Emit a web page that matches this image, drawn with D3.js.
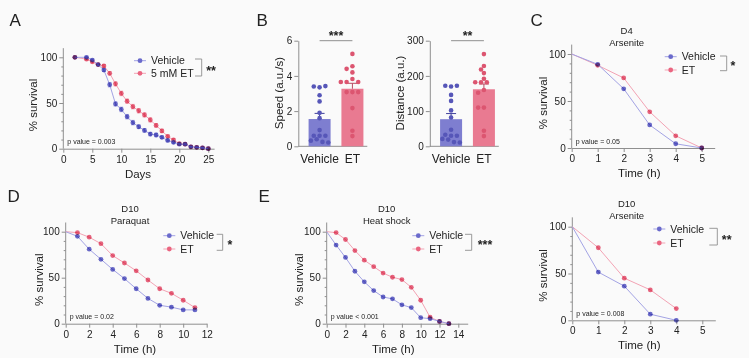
<!DOCTYPE html>
<html><head><meta charset="utf-8">
<script src="https://cdn.jsdelivr.net/npm/d3@7"></script>
<style>
body{margin:0;background:#fafafa;}
svg{display:block;font-family:"Liberation Sans",Arial,Helvetica,sans-serif;}
</style></head><body>
<svg id="chart" width="749" height="358"></svg>
<script>
// ---------------- DATA ----------------
// Panel A: lifespan
const aDays = [2,4,5,6,7,8,9,10,11,12,13,14,15,16,17,18,19,20,21,22,23,24,25];
const aVehicle = [100,100,97,92,86,70,49,43,35,28.5,24,20,16,15,12.5,9,7,5,5,2,1.5,1,0];
const aVehicleSem = [0,1,1,1,1.5,2.5,2.5,2.5,2.5,2.5,2,2,2,2,1.5,1.5,1.5,1,1,0.5,0.5,0.5,0];
const aET = [100,98,95,92,90.5,82.5,71,60.5,52,46,41.5,37,31.5,25.5,19.5,13.5,9.5,5.5,5,2,1.5,1,0];
const aETSem = [0,1,1,1,1.5,2,2.5,2.5,2.5,2.5,2.5,2.5,2.5,2,2,1.5,1.5,1,1,0.5,0.5,0.5,0];
const aTicks = [0,5,10,15,20,25];
const legendNamesA = ["Vehicle","5 mM ET"];

// Panel B: locomotion
const groups = ["Vehicle","ET"];
const speedMean = [1.55,3.27];
const speedSem = [0.32,0.31];
const speedVehicle = [3.35,3.4,3.42,2.9,2.55,1.9,1.6,0.92,0.6,0.6,0.6,0.4,0.25,0.32,0.22];
const speedET = [5.25,4.55,4.4,4.2,3.82,3.65,3.65,3.65,3.08,3.08,3.08,2.17,0.88,0.58];
const speedTicks = [0,2,4,6];
const distMean = [77,162];
const distSem = [16,15];
const distVehicle = [170,172,172,146,129,102,82,47,30,33,30,19,12,21,11];
const distET = [262,228,218,208,192,182,182,182,160,152,110,110,44,29];
const distTicks = [0,100,200,300];

// Panel C: D4 Arsenite
const cTime = [0,1,2,3,4,5];
const cVehicle = [100,89,63,24.5,4.5,0];
const cET = [100,88,74.5,38.5,13,0];
const cTicks = [0,1,2,3,4,5];

// Panel D: D10 Paraquat
const dTime = [0,1,2,3,4,5,6,7,8,9,10,11];
const dVehicle = [100,95,81,70,59,49,38,27.5,20,18,15,15];
const dET = [100,99,94,87,74,66,57.5,47.5,38,33,25.5,17.5];
const dTicks = [0,2,4,6,8,10,12];

// Panel E: D10 Heat shock
const eTime = [0,1,2,3,4,5,6,7,8,9,10,11,12,13];
const eVehicle = [100,85.5,72,57,45.5,36,29,27,20.5,17.5,6.5,5.5,2.5,0];
const eET = [100,99,91.5,79.5,69,62,55,50.5,48,39.5,25.5,7,2.5,0];
const eTicks = [0,2,4,6,8,10,12,14];

// Panel F: D10 Arsenite
const fTime = [0,1,2,3,4];
const fVehicle = [100,51.5,36.5,6.5,0];
const fET = [100,77.5,45,32.5,12.5];
const fTicks = [0,1,2,3,4,5];
const legendNames = ["Vehicle","ET"];

// ---------------- STYLE ----------------
const C = {
  blueDot:"#6a6acb", redDot:"#ea6580", blueLine:"#a3a3e4", redLine:"#f3a3b4",
  axis:"#8f8f8f", text:"#222",
  blueBar:"#7e7ed0", redBar:"#e97a91", blueBarDot:"#5656b8", redBarDot:"#dc5570",
  blueErr:"#3f3f9a", redErr:"#b84a62"
};
const fmt = d3.format("d");
const svg = d3.select("#chart");

function styleAxis(sel, fs){
  sel.select(".domain").attr("stroke",C.axis).attr("stroke-width",1);
  sel.selectAll(".tick line").attr("stroke",C.axis);
  sel.selectAll(".tick text").attr("fill",C.text).attr("font-size",fs||10);
}
function txt(x,y,s,opt){
  opt=opt||{};
  const t = svg.append("text").attr("x",x).attr("y",y).text(s)
    .attr("font-size",opt.fs||11).attr("fill",opt.fill||C.text)
    .attr("text-anchor",opt.anchor||"start");
  if(opt.weight) t.attr("font-weight",opt.weight);
  if(opt.rotate){ t.attr("transform",`rotate(-90,${x},${y})`).attr("dy","0.35em"); }
  return t;
}

function survival(cfg){
  const g = svg.append("g");
  const x = d3.scaleLinear().domain(cfg.xDomain).range(cfg.xRange);
  const y = d3.scaleLinear().domain([0,100]).range([cfg.y0,cfg.y100]);
  const yTop = y(110);
  const ya = g.append("g").attr("transform",`translate(${cfg.xRange[0]},0)`)
    .call(d3.axisLeft(y).tickValues([0,50,100]).tickFormat(fmt).tickSize(4).tickSizeOuter(0).tickPadding(2));
  ya.select(".domain").attr("d",`M0,${cfg.y0}V${yTop}`);
  styleAxis(ya);
  const ym = g.append("g").attr("transform",`translate(${cfg.xRange[0]},0)`)
    .call(d3.axisLeft(y).tickValues([10,20,30,40,60,70,80,90]).tickSize(2).tickFormat(""));
  ym.select(".domain").remove();
  ym.selectAll(".tick line").attr("stroke",C.axis);
  const xa = g.append("g").attr("transform",`translate(0,${cfg.y0})`)
    .call(d3.axisBottom(x).tickValues(cfg.xTicks).tickFormat(fmt).tickSize(4).tickSizeOuter(0).tickPadding(3));
  styleAxis(xa);
  txt(cfg.xRange[0]-cfg.yLabOff,(cfg.y0+cfg.y100)/2+2,"% survival",{fs:11.5,anchor:"middle",rotate:true});
  txt((cfg.xLabX),cfg.y0+29,cfg.xLabel,{fs:11.5,anchor:"middle"});
  if(cfg.title){
    txt(cfg.titleX,cfg.y100-20,cfg.title[0],{fs:9.5,anchor:"middle"});
    txt(cfg.titleX,cfg.y100-8,cfg.title[1],{fs:9.5,anchor:"middle"});
  }
  txt(cfg.xRange[0]+4,cfg.y0-4.5,cfg.pText,{fs:7});
  const series = [
    {t:cfg.t, v:cfg.et, sem:cfg.etSem, dot:C.redDot, line:C.redLine},
    {t:cfg.t, v:cfg.veh, sem:cfg.vehSem, dot:C.blueDot, line:C.blueLine}
  ];
  series.forEach(s=>{
    const pts = s.v.map((v,i)=>({t:s.t[i],v,sem:s.sem?s.sem[i]:0}));
    g.append("path").datum(pts)
      .attr("d",d3.line().x(d=>x(d.t)).y(d=>y(d.v)))
      .attr("fill","none").attr("stroke",s.line).attr("stroke-width",1);
    if(s.sem){
      g.selectAll(null).data(pts.filter(d=>d.sem>0)).enter().append("path")
        .attr("d",d=>`M${x(d.t)},${y(d.v-d.sem)}V${y(d.v+d.sem)}M${x(d.t)-1.8},${y(d.v-d.sem)}H${x(d.t)+1.8}M${x(d.t)-1.8},${y(d.v+d.sem)}H${x(d.t)+1.8}`)
        .attr("stroke",s.line).attr("stroke-width",0.8).attr("fill","none");
    }
    g.selectAll(null).data(pts.filter(d=>d.t>0)).enter().append("circle")
      .attr("cx",d=>x(d.t)).attr("cy",d=>y(d.v)).attr("r",2.4)
      .attr("fill",s.dot).style("mix-blend-mode","multiply");
  });
  const L = cfg.legend;
  [[C.blueDot,C.blueLine,cfg.names[0],L.y1],[C.redDot,C.redLine,cfg.names[1],L.y2]].forEach(([dc,lc,name,yy])=>{
    g.append("line").attr("x1",L.x-6).attr("x2",L.x+6).attr("y1",yy).attr("y2",yy).attr("stroke",lc);
    g.append("circle").attr("cx",L.x).attr("cy",yy).attr("r",2.4).attr("fill",dc);
    txt(L.x+11,yy+3.6,name,{fs:10.5});
  });
  g.append("path").attr("d",`M${L.bx1},${L.by1}H${L.bx2}V${L.by2}H${L.bx1}`)
    .attr("fill","none").attr("stroke",C.axis).attr("stroke-width",0.9);
  txt(L.sx,(L.by1+L.by2)/2+7,L.stars,{fs:12.5,anchor:"middle",weight:"bold"});
}

txt(9.5,25.5,"A",{fs:17});
txt(256.5,25.5,"B",{fs:17});
txt(530.5,25.5,"C",{fs:17});
txt(7.5,201.5,"D",{fs:17});
txt(258.5,201.5,"E",{fs:17});

survival({xDomain:[0,26],xRange:[63.3,214.1],y0:148.7,y100:57.3,xTicks:aTicks,
  t:aDays,veh:aVehicle,vehSem:aVehicleSem,et:aET,etSem:aETSem,
  xLabel:"Days",xLabX:138,yLabOff:30,pText:"p value = 0.003",names:legendNamesA,
  legend:{x:140,y1:60.7,y2:73.3,bx1:195,bx2:201.7,by1:59,by2:76,sx:211,stars:"**"}});

survival({xDomain:[0,5.5],xRange:[571.7,714.7],y0:148,y100:54,xTicks:cTicks,
  t:cTime,veh:cVehicle,et:cET,title:["D4","Arsenite"],titleX:626.7,
  xLabel:"Time (h)",xLabX:639.3,yLabOff:28.5,pText:"p value = 0.05",names:legendNames,
  legend:{x:670.7,y1:56.7,y2:70,bx1:720,bx2:726.7,by1:56,by2:70.7,sx:733,stars:"*"}});

survival({xDomain:[0,12],xRange:[65.7,206.7],y0:323.7,y100:231.7,xTicks:dTicks,
  t:dTime,veh:dVehicle,et:dET,title:["D10","Paraquat"],titleX:130,
  xLabel:"Time (h)",xLabX:135,yLabOff:26.5,pText:"p value = 0.02",names:legendNames,
  legend:{x:169.3,y1:235.7,y2:249,bx1:216.7,bx2:222.7,by1:234.3,by2:250.3,sx:230,stars:"*"}});

survival({xDomain:[0,15],xRange:[326.7,467.7],y0:323.7,y100:231.7,xTicks:eTicks,
  t:eTime,veh:eVehicle,et:eET,title:["D10","Heat shock"],titleX:386.7,
  xLabel:"Time (h)",xLabX:393.3,yLabOff:27.5,pText:"p value < 0.001",names:legendNames,
  legend:{x:418.3,y1:235.7,y2:249,bx1:465,bx2:471.7,by1:234.3,by2:250.3,sx:485,stars:"***"}});

survival({xDomain:[0,5.5],xRange:[572.3,715.3],y0:320.3,y100:226.7,xTicks:fTicks,
  t:fTime,veh:fVehicle,et:fET,title:["D10","Arsenite"],titleX:626.7,
  xLabel:"Time (h)",xLabX:639.3,yLabOff:29,pText:"p value = 0.008",names:legendNames,
  legend:{x:659.3,y1:229,y2:243,bx1:709.3,bx2:717.3,by1:228.3,by2:245,sx:726.7,stars:"**"}});

// ---------------- Panel B (bar + dots) ----------------
function swarm(values, yScale, r){
  const placed=[], step=2.9, minD=4.3;
  return values.map(v=>{
    const yy=yScale(v); let off=0;
    for(let k=0;k<30;k++){
      const cand = k===0?0:(k%2?-1:1)*Math.ceil(k/2)*step;
      if(placed.every(p=>Math.hypot(p.x-cand,p.y-yy)>=minD)){off=cand;break;}
    }
    placed.push({x:off,y:yy});
    return {v,x:off,y:yy};
  });
}
function barPanel(cfg){
  const g = svg.append("g");
  const x = d3.scaleBand().domain(groups).range([cfg.ax+4.7,cfg.ax+70.7]).paddingInner(0.33).paddingOuter(0.17);
  const y = d3.scaleLinear().domain(cfg.yDomain).range([146.3,40.7]);
  const ya = g.append("g").attr("transform",`translate(${cfg.ax},0)`)
    .call(d3.axisLeft(y).tickValues(cfg.ticks).tickFormat(fmt).tickSize(4).tickSizeOuter(0).tickPadding(2));
  styleAxis(ya);
  g.append("line").attr("x1",cfg.ax).attr("x2",cfg.ax+69).attr("y1",146.3).attr("y2",146.3).attr("stroke",C.axis);
  groups.forEach(grp=>{
    g.append("text").attr("x",x(grp)+x.bandwidth()/2).attr("y",162.5).attr("text-anchor","middle")
      .attr("font-size",12).attr("fill",C.text).text(grp);
  });
  const cols=[[C.blueBar,C.blueBarDot,C.blueErr],[C.redBar,C.redBarDot,C.redErr]];
  [cfg.veh,cfg.et].forEach((vals,i)=>{
    const grp=groups[i], cx=x(grp)+x.bandwidth()/2;
    g.append("rect").attr("x",x(grp)).attr("width",x.bandwidth())
      .attr("y",y(cfg.mean[i])).attr("height",y(0)-y(cfg.mean[i])).attr("fill",cols[i][0]);
    const ye=y(cfg.mean[i]+cfg.sem[i]);
    g.append("path").attr("d",`M${cx},${y(cfg.mean[i])}V${ye}M${cx-5},${ye}H${cx+5}`)
      .attr("stroke",cols[i][2]).attr("stroke-width",1).attr("fill","none");
    g.selectAll(null).data(swarm(vals,y,2.3)).enter().append("circle")
      .attr("cx",d=>cx+d.x).attr("cy",d=>d.y).attr("r",2.3).attr("fill",cols[i][1]);
  });
  const c1=x(groups[0])+x.bandwidth()/2, c2=x(groups[1])+x.bandwidth()/2;
  g.append("line").attr("x1",c1).attr("x2",c2).attr("y1",40.7).attr("y2",40.7).attr("stroke",C.axis);
  txt((c1+c2)/2,40,cfg.stars,{fs:12.5,anchor:"middle",weight:"bold"});
  txt(cfg.ax-cfg.labOff,93,cfg.label,{fs:11.5,anchor:"middle",rotate:true});
}
barPanel({ax:298.3,yDomain:[0,6],ticks:speedTicks,veh:speedVehicle,et:speedET,
  mean:speedMean,sem:speedSem,stars:"***",label:"Speed (a.u./s)",labOff:19.5});
barPanel({ax:429.8,yDomain:[0,300],ticks:distTicks,veh:distVehicle,et:distET,
  mean:distMean,sem:distSem,stars:"**",label:"Distance (a.u.)",labOff:29.5});
</script>
</body></html>
